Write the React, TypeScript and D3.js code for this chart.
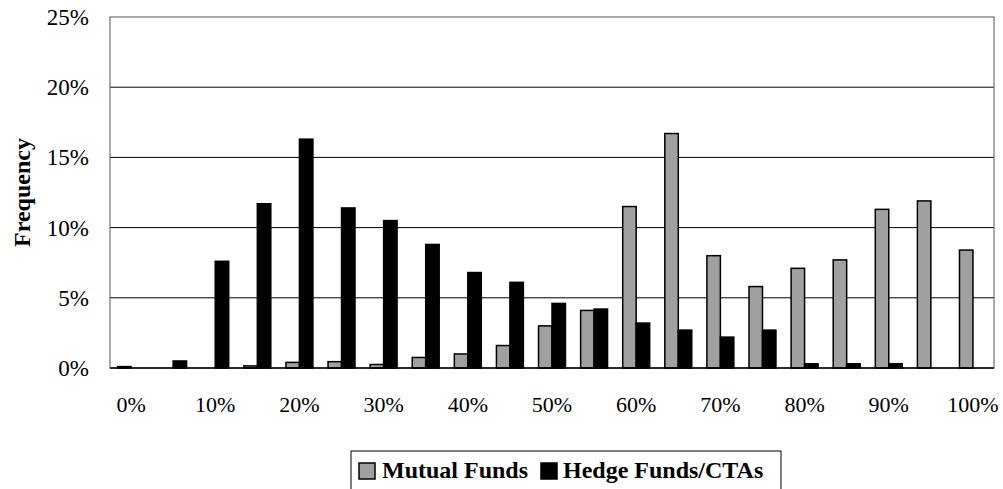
import * as d3 from "d3";

const bins = ["0%", "5%", "10%", "15%", "20%", "25%", "30%", "35%", "40%", "45%", "50%",
  "55%", "60%", "65%", "70%", "75%", "80%", "85%", "90%", "95%", "100%"];
const mutualFunds = [0.1, 0, 0, 0.15, 0.4, 0.45, 0.25, 0.75, 1.0, 1.6, 3.0,
  4.1, 11.5, 16.7, 8.0, 5.8, 7.1, 7.7, 11.3, 11.9, 8.4];
const hedgeFunds = [0, 0.5, 7.6, 11.7, 16.3, 11.4, 10.5, 8.8, 6.8, 6.1, 4.6,
  4.2, 3.2, 2.7, 2.2, 2.7, 0.3, 0.3, 0.3, 0, 0];
const yTicks = [0, 5, 10, 15, 20, 25];
const xLabels = ["0%", "10%", "20%", "30%", "40%", "50%", "60%", "70%", "80%", "90%", "100%"];
const seriesNames = ["Mutual Funds", "Hedge Funds/CTAs"];
const seriesColors = ["#a0a0a0", "#000000"];

const W = 1003, H = 489;
const m = { left: 110, right: 9, top: 17, bottom: 121 };
const font = "'Liberation Serif', 'Times New Roman', serif";

export default function App() {
  const x = d3.scaleBand<string>().domain(bins)
    .range([m.left, W - m.right]).paddingInner(0.36).paddingOuter(0.18);
  const inner = d3.scaleBand<string>().domain(["m", "h"]).range([0, x.bandwidth()]);
  const y = d3.scaleLinear().domain([0, 25]).range([H - m.bottom, m.top]);

  const rows = bins.map((b, i) => ({ bin: b, m: mutualFunds[i], h: hedgeFunds[i] }));

  return (
    <svg width={W} height={H} style={{ position: "absolute", left: 0, top: 0, background: "#fff" }}
      fontFamily={font}>
      {/* gridlines */}
      {yTicks.filter(t => t > 0 && t < 25).map(t => (
        <line key={t} x1={m.left} x2={W - m.right} y1={y(t)} y2={y(t)} stroke="#000" strokeWidth={1} />
      ))}
      <rect x={m.left} y={y(25)} width={W - m.right - m.left} height={y(0) - y(25)}
        fill="none" stroke="#555" strokeWidth={1} />

      {/* bars */}
      {rows.map(r => (
        <g key={r.bin} transform={`translate(${x(r.bin)},0)`}>
          {r.m > 0 && <rect x={inner("m")} y={y(r.m)} width={inner.bandwidth()} height={y(0) - y(r.m)}
            fill={seriesColors[0]} stroke="#000" strokeWidth={1.5} />}
          {r.h > 0 && <rect x={inner("h")} y={y(r.h)} width={inner.bandwidth()} height={y(0) - y(r.h)}
            fill={seriesColors[1]} stroke="#000" strokeWidth={1.5} />}
        </g>
      ))}
      <line x1={m.left} x2={W - m.right} y1={y(0)} y2={y(0)} stroke="#000" strokeWidth={1.5} />

      {/* y axis labels */}
      {yTicks.map(t => (
        <text key={t} x={m.left - 21} y={y(t)} dy="0.35em" textAnchor="end" fontSize={23}>{t}%</text>
      ))}
      <text transform={`translate(30,${(y(0) + y(25)) / 2}) rotate(-90)`} textAnchor="middle"
        fontSize={24} fontWeight="bold">Frequency</text>

      {/* x axis labels */}
      {xLabels.map(l => (
        <text key={l} x={(x(l) ?? 0) + x.bandwidth() / 2} y={412} textAnchor="middle" fontSize={22}>{l}</text>
      ))}

      {/* legend */}
      <rect x={351} y={451} width={430} height={60} fill="#fff" stroke="#000" strokeWidth={1} />
      <rect x={359} y={463} width={16} height={16} fill={seriesColors[0]} stroke="#000" strokeWidth={1.5} />
      <text x={382} y={478} fontSize={24} fontWeight="bold">{seriesNames[0]}</text>
      <rect x={541} y={463} width={16} height={16} fill={seriesColors[1]} stroke="#000" strokeWidth={1.5} />
      <text x={563} y={478} fontSize={24} fontWeight="bold">{seriesNames[1]}</text>
    </svg>
  );
}
